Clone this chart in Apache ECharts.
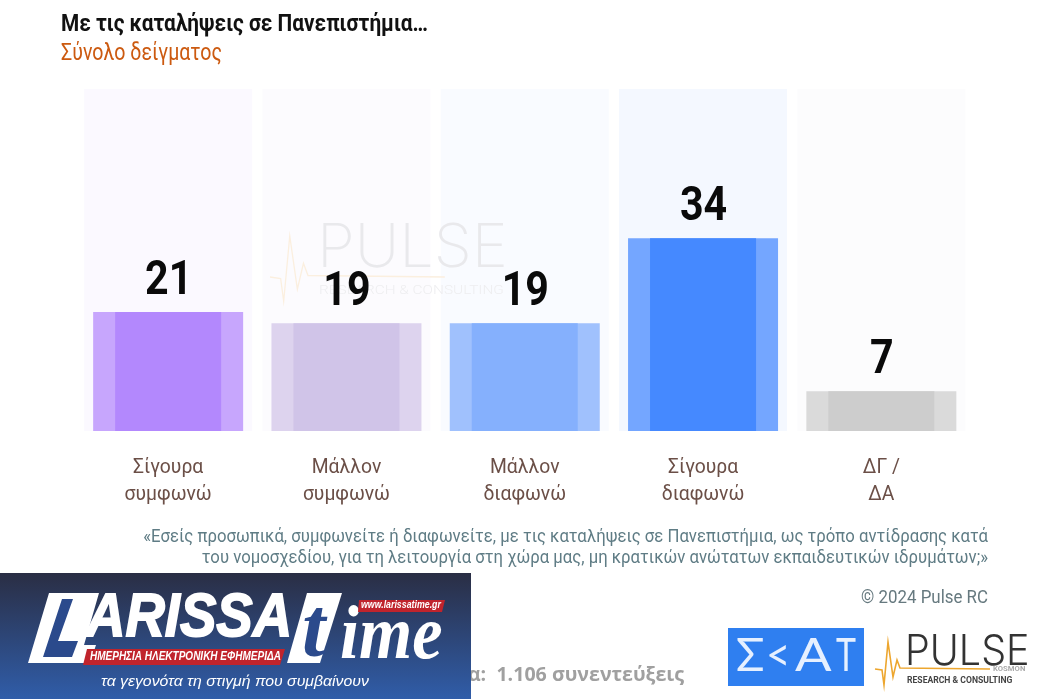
<!DOCTYPE html>
<html><head><meta charset="utf-8">
<style>html,body{margin:0;padding:0;background:#fff}#c{width:1048px;height:700px}</style>
<script src="https://cdn.jsdelivr.net/npm/echarts@6/dist/echarts.min.js"></script></head>
<body><div id="c"></div>
<script>
const categories = ['Σίγουρα\nσυμφωνώ','Μάλλον\nσυμφωνώ','Μάλλον\nδιαφωνώ','Σίγουρα\nδιαφωνώ','ΔΓ /\nΔΑ'];
const values = [21,19,19,34,7];
const axisMax = 61;
const backdrop = [60.35,60.35,60.35,60.35,60.35];
const innerColors = ['#b388fd','#d0c4e8','#85b0fd','#4589ff','#cdcdcd'];
const outerColors = ['#c7a6fd','#ddd3ee','#a0c1fd','#74a6ff','#dadada'];
const backColors  = ['#fbf9ff','#fcfbfe','#f9fbff','#f4f8ff','#fcfcfd'];
const titleText = 'Με τις καταλήψεις σε Πανεπιστήμια…';
const subtitleText = 'Σύνολο δείγματος';
const questionLines = '«Εσείς προσωπικά, συμφωνείτε ή διαφωνείτε, με τις καταλήψεις σε Πανεπιστήμια, ως τρόπο αντίδρασης κατά\nτου νομοσχεδίου, για τη λειτουργία στη χώρα μας, μη κρατικών ανώτατων εκπαιδευτικών ιδρυμάτων;»';
const RB = 'Roboto,sans-serif';

const beat = [[875,669],[882,670],[884,685],[888,642],[893,677],[897,660],[900,668],[990,669]];
const wm = beat.map(p=>[270+(p[0]-875)*1.52, 277+(p[1]-669)*1.52]);

function T(x,y,text,font,fill,sx,z,extra){
  return {type:'text',x:x,y:y,scaleX:sx||1,z:z||1,silent:true,style:Object.assign({x:0,y:0,text:text,font:font,fill:fill},extra||{})};
}
const chart = echarts.init(document.getElementById('c'),null,{renderer:'canvas'});
const g = [
 T(61,13,titleText,'bold 24px '+RB,'#111',0.867),
 T(61,42.5,subtitleText,'23px '+RB,'#cc5a10',0.852),
 // faded watermark
 T(317,219,'PULSE','200 60px Inter,Lato,sans-serif','#e9e9ec',1.02,3,{letterSpacing:4}),
 {type:'polyline',z:3,silent:true,shape:{points:wm},style:{stroke:'#fbefdf',lineWidth:1.3,fill:null}},
 T(319,284,'RESEARCH & CONSULTING','300 12.5px '+RB,'#eeeef0',1.23,3,{letterSpacing:3}),
 // question + source
 T(988,526.5,questionLines,'19px '+RB,'#5f7c85',0.88,1,{align:'right',lineHeight:21}),
 T(988,590,'© 2024 Pulse RC','17.5px '+RB,'#66797f',0.965,1,{align:'right'}),
 T(684,665,'Δείγμα:  1.106 συνεντεύξεις','bold 20px "Open Sans",sans-serif','#a0a0a0',0.98,1,{align:'right'}),
 // SKAI logo
 {type:'rect',shape:{x:728,y:628,width:136,height:58},style:{fill:'#2f7ff0'}},
 T(736,632,'Σ','400 47px Lato,sans-serif','#e6f0ff',1),
 T(766,632,'<','400 47px Lato,sans-serif','#e6f0ff',0.9),
 T(795,632,'Α','400 47px Lato,sans-serif','#e6f0ff',1.15),
 T(836,632,'Τ','400 47px Lato,sans-serif','#e6f0ff',0.72),
 // PULSE logo
 T(905,631,'PULSE','300 42px Inter,Lato,sans-serif','#333',0.94,1,{letterSpacing:2}),
 {type:'polyline',shape:{points:beat},style:{stroke:'#eda62e',lineWidth:1.6,fill:null}},
 T(993,666,'KOSMON','bold 7px '+RB,'#aaa',1.1),
 T(907,676,'RESEARCH & CONSULTING','bold 8.6px '+RB,'#444',1,1,{letterSpacing:1.75}),
 // Larissa Time banner
 {type:'rect',z:10,shape:{x:0,y:573,width:471,height:126},style:{fill:new echarts.graphic.LinearGradient(0,0,0,1,[{offset:0,color:'#2a2e44'},{offset:1,color:'#305da9'}])}},
 {type:'polygon',z:11,shape:{points:[[49,593],[99,593],[84,645],[96,645],[90,663],[28,663]]},style:{fill:'#fff'}},
 {type:'polygon',z:11,shape:{points:[[62,599],[73,599],[58,641],[78,641],[72,657],[43,657]]},style:{fill:'#2b4a8c'}},
 T(86,588,'ARISSA','italic 900 62px "Liberation Sans",sans-serif','#fff',0.88,11,{stroke:'#fff',lineWidth:1.8}),
 {type:'polygon',z:11,shape:{points:[[307,593],[342,593],[320,663],[287,663]]},style:{fill:'#fff'}},
 T(302,592,'t','italic bold 84px "Liberation Serif",serif','#2b4a8c',1,12),
 T(340,600,'ime','italic bold 76px "Liberation Serif",serif','#fff',0.9,11),
 {type:'polygon',z:13,shape:{points:[[87,649],[285,649],[280,665],[83,665]]},style:{fill:'#c0242c'}},
 T(90,650,'ΗΜΕΡΗΣΙΑ ΗΛΕΚΤΡΟΝΙΚΗ ΕΦΗΜΕΡΙΔΑ','italic bold 12.5px "Liberation Sans",sans-serif','#fff',0.8,14),
 {type:'polygon',z:13,shape:{points:[[359,600],[445,600],[442,612],[358,612]]},style:{fill:'#c0242c'}},
 T(361,600.5,'www.larissatime.gr','italic bold 10px "Liberation Sans",sans-serif','#fff',0.88,14),
 T(101,674,'τα γεγονότα τη στιγμή που συμβαίνουν','italic 15.5px "Liberation Sans",sans-serif','#fff',1.02,11)
];
const hiddenX = {type:'category',data:categories,show:false};
chart.setOption({
 animation:false,
 grid:{left:79,width:891.5,top:85.3,height:345.7},
 xAxis:[hiddenX,hiddenX,hiddenX],
 yAxis:{type:'value',min:0,max:axisMax,show:false,splitLine:{show:false}},
 series:[
  {type:'bar',name:'back',xAxisIndex:0,z:1,barWidth:168,silent:true,data:backdrop.map((v,i)=>({value:v,itemStyle:{color:backColors[i]}}))},
  {type:'bar',name:'outer',xAxisIndex:1,z:2,barWidth:150,silent:true,data:values.map((v,i)=>({value:v,itemStyle:{color:outerColors[i]}}))},
  {type:'bar',name:'inner',xAxisIndex:2,z:2,barWidth:106,silent:true,data:values.map((v,i)=>({value:v,itemStyle:{color:innerColors[i]}}))},
  {type:'custom',name:'values',xAxisIndex:0,z:5,silent:true,clip:false,data:values.map((v,i)=>[i,v]),encode:{x:0,y:1},
   renderItem:(p,api)=>{const c=api.coord([api.value(0),api.value(1)]);
     return {type:'text',x:c[0]+0.5,y:c[1]-6,scaleX:0.84,z2:10,style:{x:0,y:0,text:String(values[p.dataIndex]),align:'center',verticalAlign:'bottom',font:'bold 49px '+RB,fill:'#0a0a0a'}};}},
  {type:'custom',name:'categories',xAxisIndex:0,z:5,silent:true,clip:false,data:values.map((v,i)=>[i,0]),encode:{x:0,y:1},
   renderItem:(p,api)=>{const c=api.coord([api.value(0),0]);
     return {type:'text',x:c[0],y:c[1]+23,scaleX:0.92,style:{x:0,y:0,text:categories[p.dataIndex],align:'center',verticalAlign:'top',font:'21px '+RB,fill:'#6b4f47',lineHeight:27}};}}
 ],
 graphic:{elements:g}
});
</script></body></html>
